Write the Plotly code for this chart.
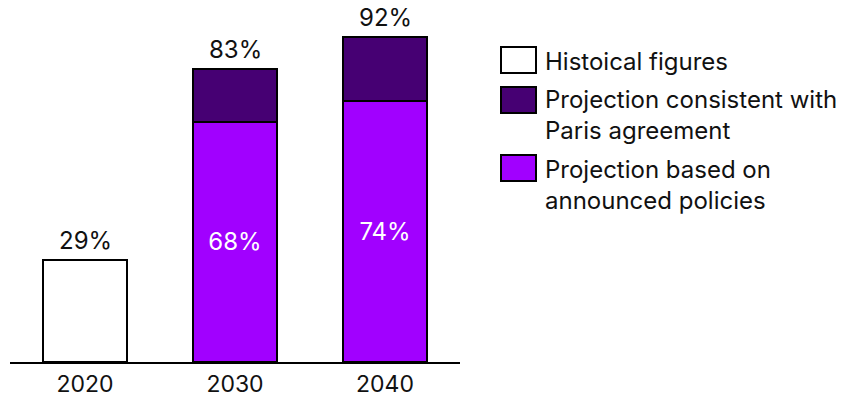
import plotly.graph_objects as go

years = ["2020", "2030", "2040"]
historical = [29, None, None]
announced = [None, 68, 74]
paris_extra = [None, 15, 18]
totals = [29, 83, 92]
legend_labels = ["Histoical figures", "Projection consistent with<br>Paris agreement",
                 "Projection based on<br>announced policies"]
colors = ["#FFFFFF", "#460073", "#A100FF"]

FONT = "Inter"
FS = 24

fig = go.Figure()
fig.add_bar(x=years, y=historical, marker=dict(color=colors[0], line=dict(color="black", width=2)),
            width=0.56, showlegend=False)
fig.add_bar(x=years, y=announced, marker=dict(color=colors[2], line=dict(color="black", width=2)),
            width=0.56, text=[None if v is None else f"{v}%" for v in announced],
            textposition="inside", insidetextanchor="middle",
            textfont=dict(color="white", family=FONT, size=FS), showlegend=False)
fig.add_bar(x=years, y=paris_extra, marker=dict(color=colors[1], line=dict(color="black", width=2)),
            width=0.56, showlegend=False)

for i, t in enumerate(totals):
    fig.add_annotation(x=i, y=t, text=f"{t}%", showarrow=False, yanchor="bottom", yshift=3,
                       font=dict(family=FONT, size=FS, color="#111"))

# legend drawn manually
W, H, L, T = 450, 353, 10, 9
def px(x):
    return (x - L) / W
def py(y):
    return (T + H - y) / H

box_tops = [47, 87, 155]
text_centers = [62, 115, 185]
for i, top in enumerate(box_tops):
    fig.add_shape(type="rect", xref="paper", yref="paper",
                  x0=px(501), x1=px(536), y0=py(top + 26), y1=py(top),
                  fillcolor=colors[i], line=dict(color="black", width=2))
    fig.add_annotation(xref="paper", yref="paper", x=px(543), y=py(text_centers[i]),
                       xanchor="left", yanchor="middle", align="left", showarrow=False,
                       text=legend_labels[i], font=dict(family=FONT, size=FS, color="#111"))

fig.update_layout(
    barmode="stack", width=846, height=397,
    margin=dict(l=L, r=846 - L - W, t=T, b=397 - T - H),
    plot_bgcolor="white", paper_bgcolor="white",
    font=dict(family=FONT, size=FS, color="#111"),
    xaxis=dict(type="category", showline=True, linecolor="black", linewidth=2, ticks="",
               range=[-0.5, 2.5], automargin=False,
               tickfont=dict(family=FONT, size=23, color="#111")),
    yaxis=dict(visible=False, range=[0, 100], automargin=False),
)
fig.write_html("out.html")
